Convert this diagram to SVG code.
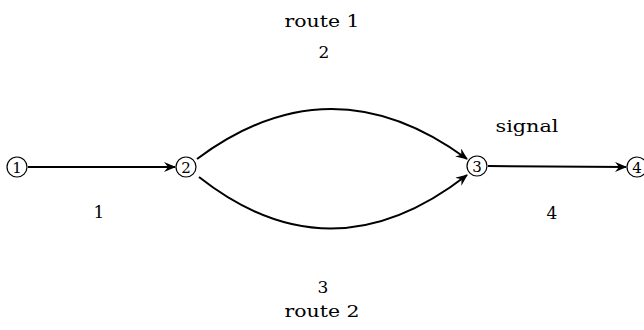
<svg xmlns="http://www.w3.org/2000/svg" width="644" height="330" viewBox="0 0 644 330">
<style>
.node circle{fill:#fff;stroke:#000;stroke-width:1.2}
.node text{font-family:"DejaVu Serif","Liberation Serif",serif;font-size:15px;text-anchor:middle;fill:#000}
.edge{fill:none;stroke:#000;stroke-width:2;marker-end:url(#arr)}
.lbl{font-family:"DejaVu Serif","Liberation Serif",serif;font-size:17px;text-anchor:middle;fill:#000}
</style>
<defs>
<marker id="arr" viewBox="0 0 12 10" refX="11" refY="5" markerWidth="12" markerHeight="10" markerUnits="userSpaceOnUse" orient="auto">
<path d="M0,0 L12,5 L0,10 L4,5 z" fill="#000"/>
</marker>
</defs>
<rect width="644" height="330" fill="#fff"/>
<g id="connectors">
<path class="edge" d="M28,167 L175,167"/>
<path class="edge" d="M197,159 Q331,59 467,159"/>
<path class="edge" d="M199,177 Q331,281 467,175"/>
<path class="edge" d="M488,166 L626,167"/>
</g>
<g id="node1" class="node"><circle cx="17" cy="167" r="10"/><text x="17" y="172.5">1</text></g>
<g id="node2" class="node"><circle cx="186" cy="167" r="10"/><text x="186" y="172.5">2</text></g>
<g id="node3" class="node"><circle cx="477" cy="166" r="10"/><text x="477" y="171.5">3</text></g>
<g id="node4" class="node"><circle cx="637" cy="167" r="10"/><text x="637" y="172.5">4</text></g>
<g id="labels">
<text class="lbl" x="322" y="27" textLength="75" lengthAdjust="spacingAndGlyphs">route 1</text>
<text class="lbl" x="324" y="58">2</text>
<text class="lbl" x="527" y="132" textLength="63" lengthAdjust="spacingAndGlyphs">signal</text>
<text class="lbl" x="99" y="218">1</text>
<text class="lbl" x="552" y="219">4</text>
<text class="lbl" x="323" y="293">3</text>
<text class="lbl" x="322" y="317" textLength="75" lengthAdjust="spacingAndGlyphs">route 2</text>
</g>
</svg>
